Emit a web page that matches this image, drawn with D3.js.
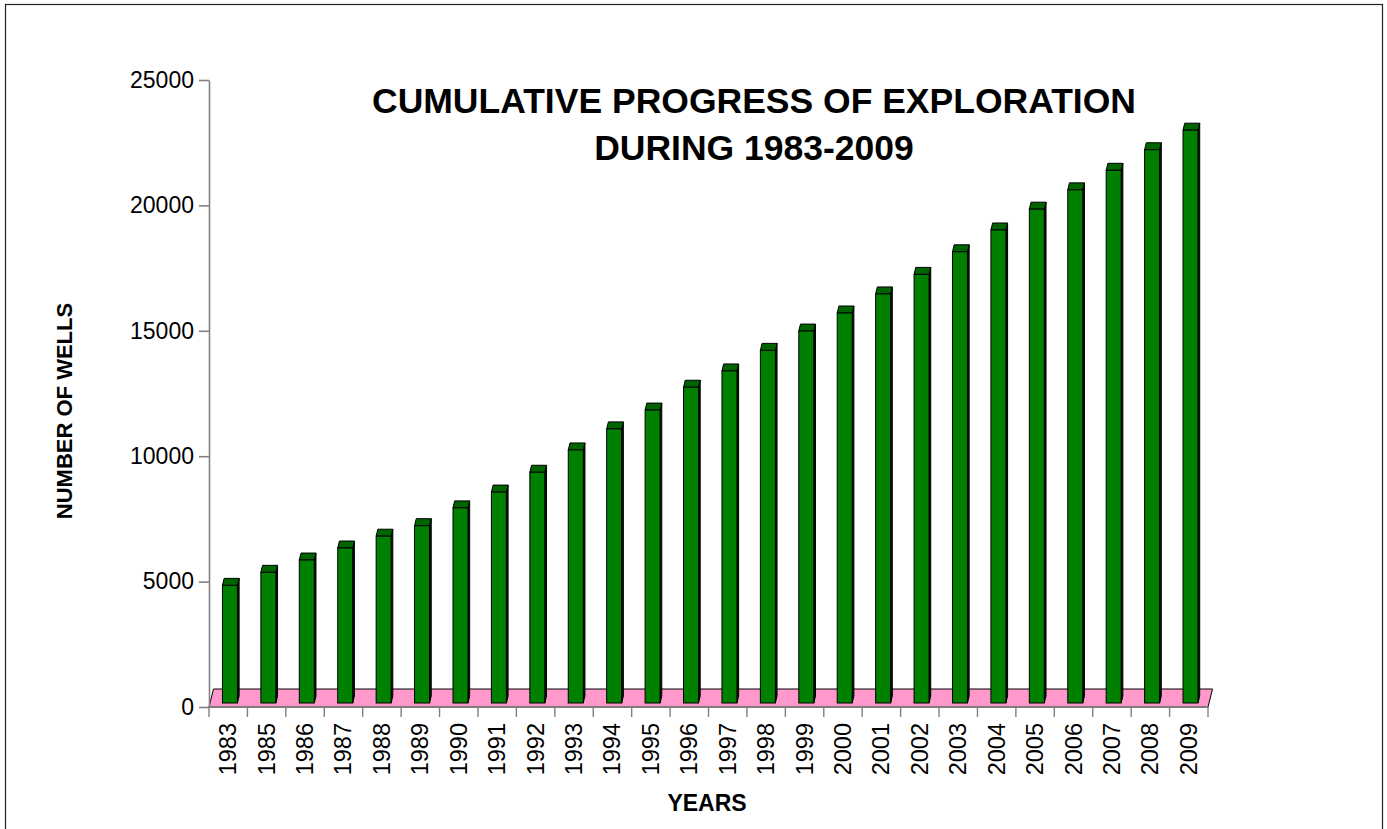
<!DOCTYPE html>
<html>
<head>
<meta charset="utf-8">
<script src="https://cdn.jsdelivr.net/npm/d3@7"></script>
<style>
  html, body { margin: 0; padding: 0; background: #fff; }
  svg { display: block; font-family: "Liberation Sans", Arial, sans-serif; }
</style>
</head>
<body>
<svg id="chart" width="1387" height="829"></svg>
<script>
// Cumulative number of exploration wells, 1983-2009
const years = ["1983","1985","1986","1987","1988","1989","1990","1991","1992","1993",
  "1994","1995","1996","1997","1998","1999","2000","2001","2002","2003",
  "2004","2005","2006","2007","2008","2009"];
const wells = [4690, 5210, 5700, 6180, 6650, 7070, 7780, 8410, 9200, 10090,
  10930, 11680, 12590, 13240, 14060, 14830, 15550, 16310, 17090, 17990,
  18860, 19690, 20460, 21240, 22060, 22840];
const yTicks = [0, 5000, 10000, 15000, 20000, 25000];
const titleLines = ["CUMULATIVE PROGRESS OF EXPLORATION", "DURING 1983-2009"];
const yTitle = "NUMBER OF WELLS";
const xTitle = "YEARS";

const svg = d3.select("#chart");

// outer frame
svg.append("rect")
  .attr("x", 5.5).attr("y", 4.5).attr("width", 1377).attr("height", 840)
  .attr("fill", "none").attr("stroke", "#222").attr("stroke-width", 1.2);

const x = d3.scaleBand().domain(years).range([209, 1208]).padding(0);
const y = d3.scaleLinear().domain([0, 25000]).range([707, 80]);

// perspective offsets: floor depth, bar front position, bar depth
const floorDx = 4.5, floorDy = -18;
const frontDx = 1, frontDy = -4;
const barDx = 1.7, barDy = -7;
const bw = x.bandwidth();
const barW = bw * 0.39;
const barOff = bw * 0.35;

// pink floor
const fx0 = x.range()[0], fx1 = x.range()[1], fy = y(0);
svg.append("path")
  .attr("d", `M${fx0},${fy} L${fx0 + floorDx},${fy + floorDy} L${fx1 + floorDx},${fy + floorDy} L${fx1},${fy} Z`)
  .attr("fill", "#ff99cc").attr("stroke", "#000").attr("stroke-width", 1);

// y axis
const yAxis = d3.axisLeft(y).tickValues(yTicks).tickSize(10).tickSizeOuter(0)
  .tickPadding(5).tickFormat(d3.format("d"));
const gy = svg.append("g").attr("transform", "translate(209,0)").call(yAxis);
gy.select(".domain").attr("stroke", "#808080").attr("stroke-width", 1.6);
gy.selectAll(".tick line").attr("stroke", "#808080").attr("stroke-width", 1.6);
gy.selectAll(".tick text").attr("font-size", 23).attr("fill", "#000")
  .attr("font-family", "Liberation Sans, Arial, sans-serif");

// x axis: ticks at category boundaries, labels at category centres
const gx = svg.append("g");
gx.append("line").attr("x1", fx0).attr("x2", fx1).attr("y1", fy).attr("y2", fy)
  .attr("stroke", "#808080").attr("stroke-width", 1.4);
const bounds = years.map(d => x(d)).concat([fx1]);
gx.selectAll("line.tk").data(bounds).join("line").attr("class", "tk")
  .attr("x1", d => d).attr("x2", d => d).attr("y1", fy).attr("y2", fy + 10)
  .attr("stroke", "#808080").attr("stroke-width", 1.4);
gx.selectAll("text.yr").data(years).join("text").attr("class", "yr")
  .attr("transform", d => `translate(${x(d) + bw / 2 + 8},723) rotate(-90)`)
  .attr("text-anchor", "end")
  .attr("font-size", 23.5)
  .text(d => d);

// 3D columns
const bars = svg.append("g").selectAll("g.bar").data(years.map((d, i) => ({ year: d, v: wells[i] })))
  .join("g").attr("class", "bar");

bars.each(function (d) {
  const g = d3.select(this);
  const xl = x(d.year) + barOff;
  const xr = xl + barW;
  const yt = y(d.v) + frontDy;
  const yb = y(0) + frontDy;
  // side face
  g.append("path")
    .attr("d", `M${xr},${yt} L${xr + barDx},${yt + barDy} L${xr + barDx},${yb + barDy} L${xr},${yb} Z`)
    .attr("fill", "#001a00").attr("stroke", "#000").attr("stroke-width", 1);
  // top face
  g.append("path")
    .attr("d", `M${xl},${yt} L${xl + barDx},${yt + barDy} L${xr + barDx},${yt + barDy} L${xr},${yt} Z`)
    .attr("fill", "#006400").attr("stroke", "#000").attr("stroke-width", 1);
  // front face
  g.append("rect")
    .attr("x", xl).attr("y", yt).attr("width", barW).attr("height", yb - yt)
    .attr("fill", "#008000").attr("stroke", "#000").attr("stroke-width", 1);
});

// titles
const title = svg.append("text").attr("text-anchor", "middle")
  .attr("font-weight", "bold").attr("font-size", 35.5).attr("fill", "#000");
title.selectAll("tspan").data(titleLines).join("tspan")
  .attr("x", 754).attr("y", (d, i) => 113 + i * 47).text(d => d);

svg.append("text")
  .attr("transform", "translate(72,411) rotate(-90)")
  .attr("text-anchor", "middle").attr("font-weight", "bold").attr("font-size", 22)
  .text(yTitle);

svg.append("text")
  .attr("x", 707).attr("y", 811)
  .attr("text-anchor", "middle").attr("font-weight", "bold").attr("font-size", 23)
  .text(xTitle);
</script>
</body>
</html>
